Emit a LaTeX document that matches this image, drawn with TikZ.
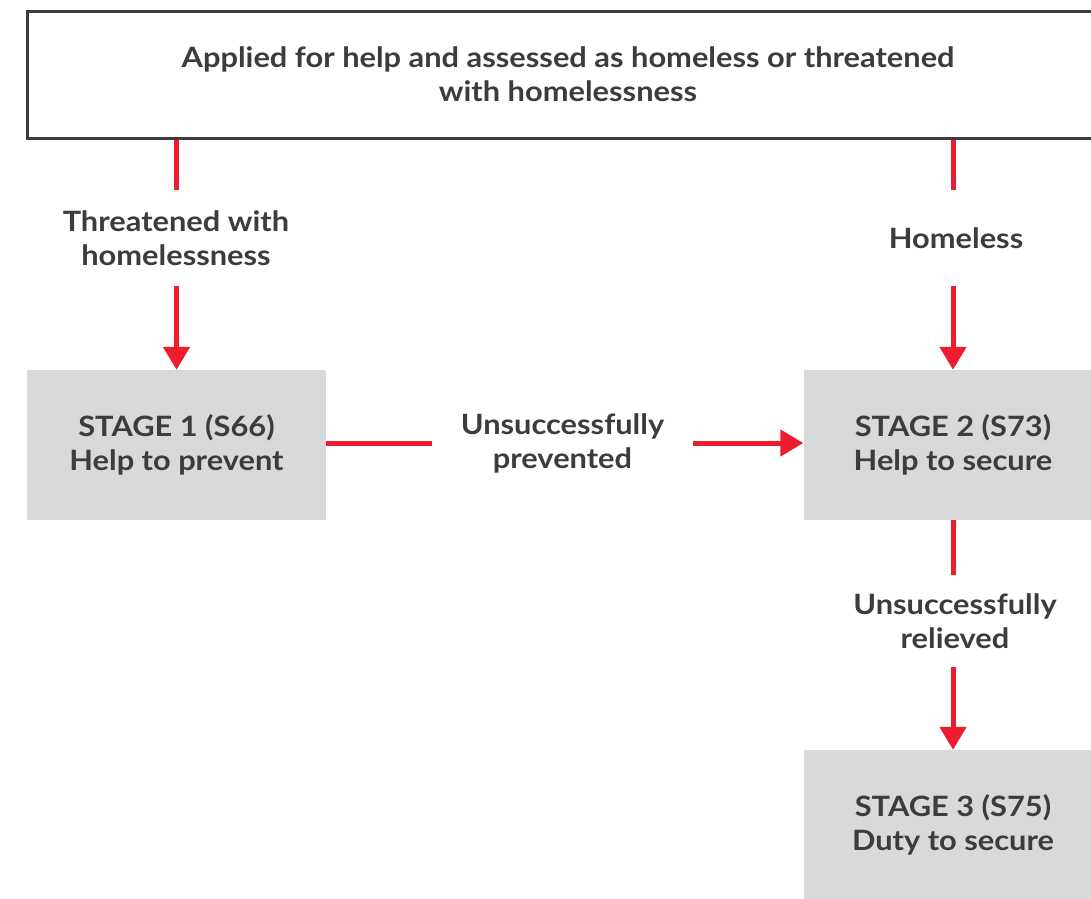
\documentclass[tikz,border=0pt]{standalone}
\usepackage{fontspec}
\setmainfont[FakeStretch=1.1]{Lato}
\usetikzlibrary{arrows.meta, positioning}
\definecolor{flowRed}{HTML}{ED1C2E}
\definecolor{textDark}{HTML}{3C3C3E}
\definecolor{stageGrey}{HTML}{D9D9DB}

\begin{document}
\begin{tikzpicture}[x=1pt, y=-1pt,
    every node/.style={font=\fontsize{28}{34}\selectfont\bfseries, text=textDark, align=center},
    stagebox/.style={rectangle, fill=stageGrey, minimum width=299pt, minimum height=150pt, inner sep=0pt},
    lbl/.style={rectangle, inner sep=0pt},
    link/.style={line width=5pt, flowRed},
    arr/.style={link, -{Triangle[width=26pt, length=23pt]}}
  ]
    \useasboundingbox (0,0) rectangle (1091,898);
    \clip (0,0) rectangle (1091,898);

    \node[rectangle, draw=textDark, line width=3pt, fill=white, minimum width=1082pt,
      minimum height=127pt, inner sep=0pt] (applied) at (568,74.5)
      {Applied for help and assessed as homeless or threatened\\with homelessness};

    \node[stagebox] (s1) at (176.5,445) {STAGE 1 (S66)\\Help to prevent};
    \node[stagebox] (s2) at (953,445) {STAGE 2 (S73)\\Help to secure};
    \node[stagebox] (s3) at (953,825) {STAGE 3 (S75)\\Duty to secure};

    \node[lbl, minimum height=95pt] (threat) at (176,238) {Threatened with\\homelessness};
    \node[lbl, minimum height=95pt] (homeless) at (956,238) {Homeless};
    \node[lbl, minimum width=261pt] (prevent) at (562.5,443) {Unsuccessfully\\prevented};
    \node[lbl, minimum height=92pt] (relieve) at (955,621) {Unsuccessfully\\relieved};

    \draw[link] (applied.south -| s1) -- (threat.north -| s1);
    \draw[arr] (threat.south -| s1) -- (s1.north);
    \draw[link] (applied.south -| s2) -- (homeless.north -| s2);
    \draw[arr] (homeless.south -| s2) -- (s2.north);
    \draw[link] (s1.east |- prevent) -- (prevent.west);
    \draw[arr] (prevent.east) -- (s2.west |- prevent);
    \draw[link] (s2.south) -- (relieve.north -| s2);
    \draw[arr] (relieve.south -| s2) -- (s3.north);
  \end{tikzpicture}
\end{document}
